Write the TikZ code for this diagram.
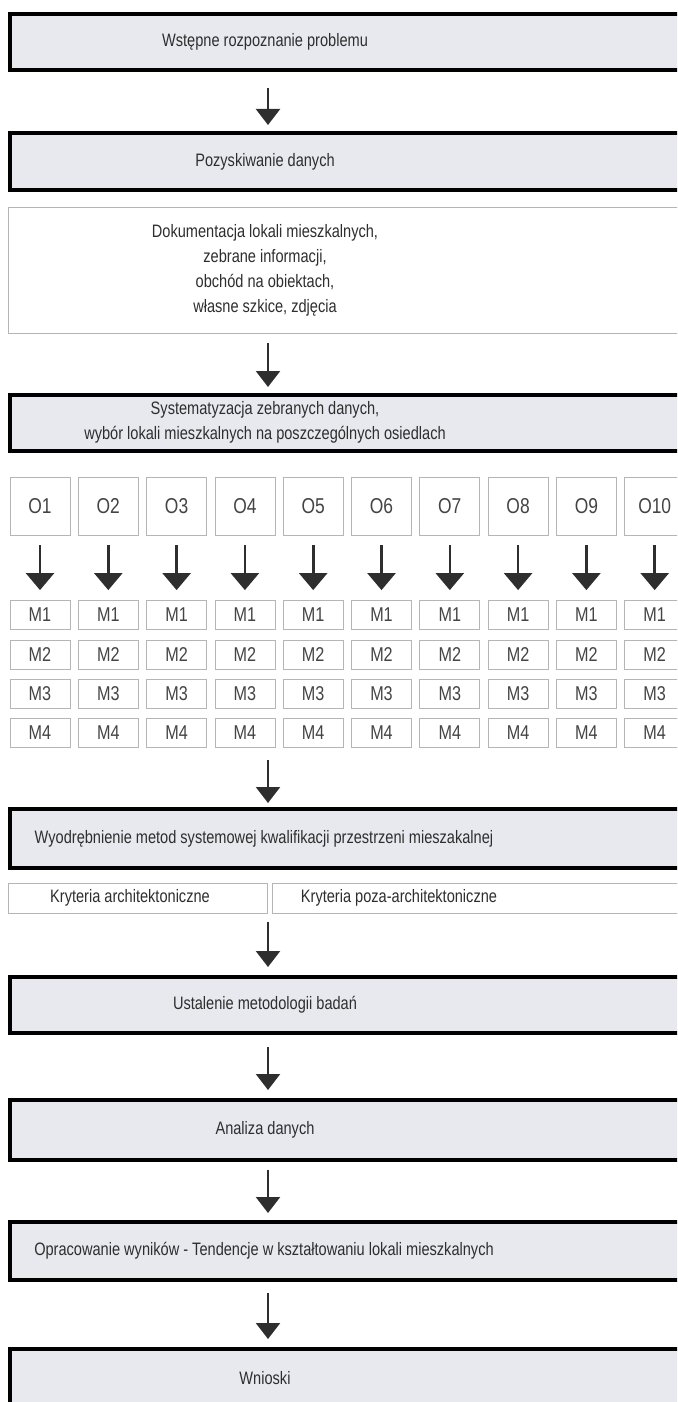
\documentclass[tikz,border=0pt]{standalone}
\usepackage{fontspec}
\setmainfont{Liberation Sans}[FakeStretch=0.81]
\usetikzlibrary{arrows.meta}
\definecolor{boxfill}{HTML}{E8E9EE}
\definecolor{txt}{HTML}{2E2E2E}
\definecolor{gtxt}{HTML}{444444}
\definecolor{thin}{HTML}{B5B5B5}
\begin{document}
\begin{tikzpicture}[x=1pt,y=-1pt,
 mbox/.style={draw=black, line width=4pt, fill=boxfill, minimum width=694pt, inner sep=0pt},
 lbl/.style={text=txt, font=\fontsize{18}{25}\selectfont, align=center, inner sep=0pt},
 tbox/.style={draw=thin, line width=0.8pt, fill=white, inner sep=0pt},
 arr/.style={draw=txt, line width=2.2pt, -{Triangle[width=24pt,length=16pt]}},
 sarr/.style={draw=txt, line width=2.6pt, -{Triangle[width=28pt,length=17pt]}},
 obox/.style={tbox, minimum width=60pt, minimum height=58pt, text=gtxt, font=\fontsize{21.5}{22}\selectfont},
 mcell/.style={tbox, minimum width=60pt, minimum height=29pt, text=gtxt, font=\fontsize{20}{20}\selectfont},
]
\useasboundingbox (0,0) rectangle (677,1402);
\clip (0,0) rectangle (677,1402);

% main boxes
\node[mbox, minimum height=56pt] (b1) at (357,42) {};
\node[lbl] (t1) at (265,42) {Wstępne rozpoznanie problemu};

\node[mbox, minimum height=57pt] (b2) at (357,161.5) {};
\node[lbl] (t2) at (265,161.5) {Pozyskiwanie danych};

\node[tbox, minimum width=692pt, minimum height=126pt] (b3) at (354,270) {};
\node[lbl] (t3) at (265,270) {Dokumentacja lokali mieszkalnych,\\zebrane informacji,\\obchód na obiektach,\\własne szkice, zdjęcia};

\node[mbox, minimum height=56pt] (b4) at (357,423) {};
\node[lbl] (t4) at (265,422) {Systematyzacja zebranych danych,\\wybór lokali mieszkalnych na poszczególnych osiedlach};

% grid
\foreach \i in {1,...,10} {
  \pgfmathsetmacro\cx{40+(\i-1)*68.3}
  \node[obox] (o\i) at (\cx,506) {O\i};
  \node[mcell] (m1-\i) at (\cx,615) {M1};
  \node[mcell] (m2-\i) at (\cx,655) {M2};
  \node[mcell] (m3-\i) at (\cx,694) {M3};
  \node[mcell] (m4-\i) at (\cx,733) {M4};
  \draw[sarr, shorten <=10pt, shorten >=10pt] (o\i.south) -- (m1-\i.north);
}

\node[mbox, minimum height=59pt] (b5) at (357,838.5) {};
\node[lbl] (t5) at (264,838.5) {Wyodrębnienie metod systemowej kwalifikacji przestrzeni mieszakalnej};

\node[tbox, minimum width=259pt, minimum height=30pt] (kl) at (137.5,898) {};
\node[lbl] (tkl) at (130,898) {Kryteria architektoniczne};
\node[tbox, minimum width=428pt, minimum height=30pt] (kr) at (486,898) {};
\node[lbl] (tkr) at (399,898) {Kryteria poza-architektoniczne};

\node[mbox, minimum height=56pt] (b6) at (357,1005) {};
\node[lbl] (t6) at (265,1005) {Ustalenie metodologii badań};

\node[mbox, minimum height=60pt] (b7) at (357,1130) {};
\node[lbl] (t7) at (265,1130) {Analiza danych};

\node[mbox, minimum height=58pt] (b8) at (357,1251) {};
\node[lbl] (t8) at (264,1251) {Opracowanie wyników - Tendencje w kształtowaniu lokali mieszkalnych};

\node[mbox, minimum height=60pt] (b9) at (357,1379) {};
\node[lbl] (t9) at (265,1378) {Wnioski};

% arrows
\coordinate (ax) at (268,0);
\draw[arr, shorten <=16pt, shorten >=6pt] (b1.south -| ax) -- (b2.north -| ax);
\draw[arr, shorten <=10pt, shorten >=6pt] (b3.south -| ax) -- (b4.north -| ax);
\draw[arr, shorten <=12pt, shorten >=4pt] (m4-4.south -| ax) -- (b5.north -| ax);
\draw[arr, shorten <=9pt, shorten >=8pt] (kl.south -| ax) -- (b6.north -| ax);
\draw[arr, shorten <=12pt, shorten >=8pt] (b6.south -| ax) -- (b7.north -| ax);
\draw[arr, shorten <=8pt, shorten >=7pt] (b7.south -| ax) -- (b8.north -| ax);
\draw[arr, shorten <=11pt, shorten >=8pt] (b8.south -| ax) -- (b9.north -| ax);
\end{tikzpicture}
\end{document}
